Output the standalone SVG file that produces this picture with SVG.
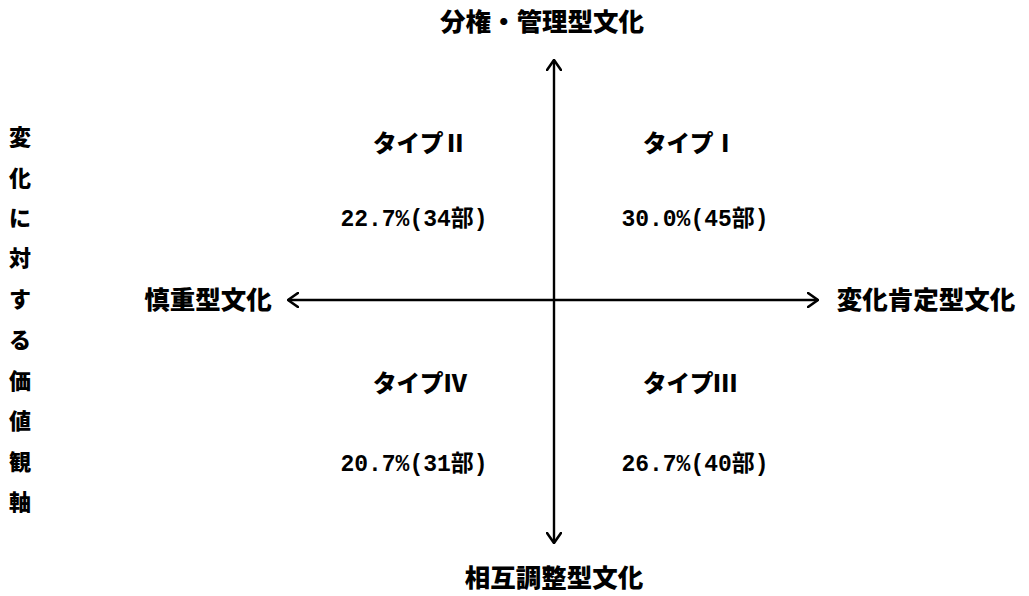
<svg xmlns="http://www.w3.org/2000/svg" width="1029" height="596" viewBox="0 0 1029 596">
<defs>
<marker id="arr" viewBox="0 0 12 16" refX="11" refY="8" markerWidth="12" markerHeight="16" markerUnits="userSpaceOnUse" orient="auto-start-reverse">
<path d="M1,1 L11,8 L1,15" fill="none" stroke="#000" stroke-width="2.6" stroke-linecap="round" stroke-linejoin="round"/>
</marker>
<style>
.jp{font-family:"Noto Sans CJK JP","Noto Sans",sans-serif;font-weight:900;fill:#000;}
.ax{font-size:25.5px;}
.ty{font-size:23.5px;}
.vt{font-size:22px;}
.num{font-family:"Liberation Mono","Noto Sans CJK JP",monospace;font-weight:bold;font-size:23px;fill:#000;}
.axis{stroke:#000;stroke-width:2.4;fill:none;}
</style>
</defs>
<rect width="1029" height="596" fill="#fff"/>
<g id="connectors">
<line class="axis" x1="554" y1="300" x2="554" y2="60" marker-end="url(#arr)"/>
<line class="axis" x1="554" y1="300" x2="554" y2="543" marker-end="url(#arr)"/>
<line class="axis" x1="554" y1="300" x2="288" y2="300" marker-end="url(#arr)"/>
<line class="axis" x1="554" y1="300" x2="818" y2="300" marker-end="url(#arr)"/>
</g>
<g id="top-label"><text class="jp ax" x="542" y="31" text-anchor="middle">分権・管理型文化</text></g>
<g id="bottom-label"><text class="jp ax" x="554" y="587" text-anchor="middle">相互調整型文化</text></g>
<g id="left-label"><text class="jp ax" x="208" y="309" text-anchor="middle">慎重型文化</text></g>
<g id="right-label"><text class="jp ax" x="926" y="309" text-anchor="middle">変化肯定型文化</text></g>
<g id="vertical-label" class="jp vt" text-anchor="middle">
<text x="20" y="145">変</text>
<text x="20" y="186">化</text>
<text x="20" y="226">に</text>
<text x="20" y="266">対</text>
<text x="20" y="307">す</text>
<text x="20" y="348">る</text>
<text x="20" y="389">価</text>
<text x="20" y="429">値</text>
<text x="20" y="470">観</text>
<text x="20" y="510">軸</text>
</g>
<g id="type2"><text class="jp ty" x="420" y="152" text-anchor="middle">タイプⅡ</text><text class="num" x="414" y="226" text-anchor="middle">22.7%(34部)</text></g>
<g id="type1"><text class="jp ty" x="690" y="152" text-anchor="middle">タイプⅠ</text><text class="num" x="695" y="226" text-anchor="middle">30.0%(45部)</text></g>
<g id="type4"><text class="jp ty" x="420" y="392" text-anchor="middle">タイプⅣ</text><text class="num" x="414" y="471" text-anchor="middle">20.7%(31部)</text></g>
<g id="type3"><text class="jp ty" x="690" y="392" text-anchor="middle">タイプⅢ</text><text class="num" x="695" y="471" text-anchor="middle">26.7%(40部)</text></g>
</svg>
